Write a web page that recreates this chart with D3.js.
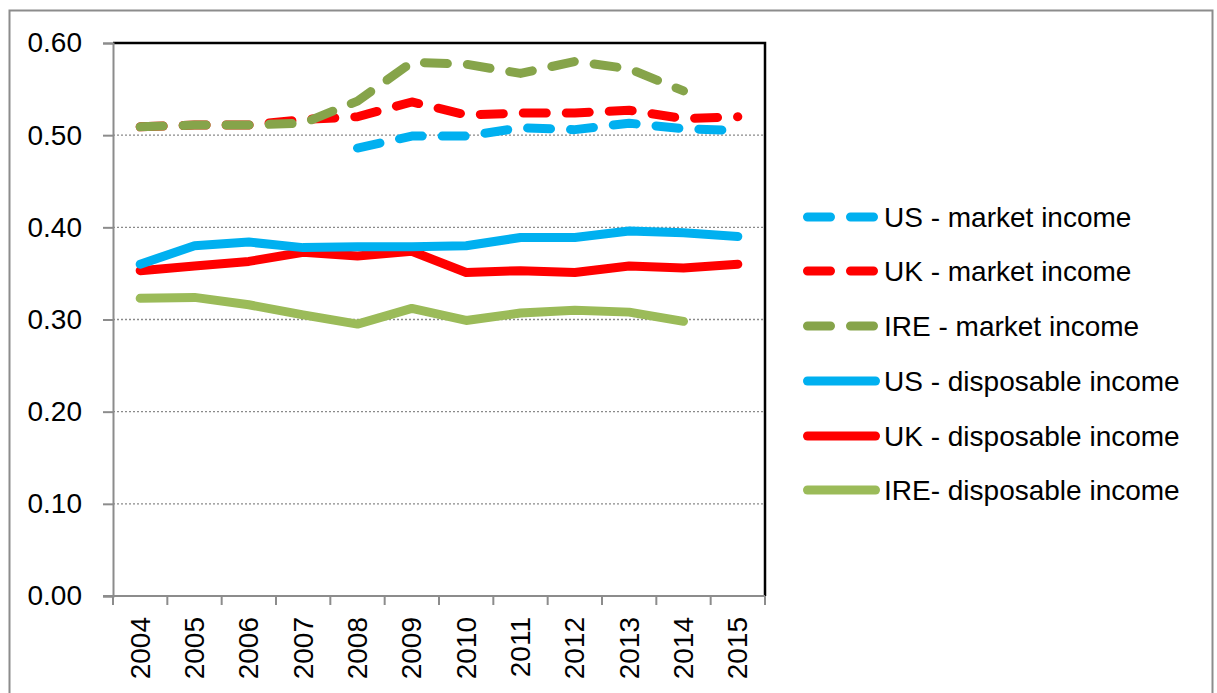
<!DOCTYPE html>
<html>
<head>
<meta charset="utf-8">
<script src="https://cdn.jsdelivr.net/npm/d3@7"></script>
<style>
  html, body { margin: 0; padding: 0; background: #fff; }
  svg { display: block; font-family: "Liberation Sans", Arial, sans-serif; }
</style>
</head>
<body>
<svg id="chart" width="1217" height="693"></svg>
<script>
// Gini coefficients, market vs disposable income
const years = ["2004","2005","2006","2007","2008","2009","2010","2011","2012","2013","2014","2015"];
const yTicks = [0, 0.1, 0.2, 0.3, 0.4, 0.5, 0.6];

const usMarket  = [null, null, null, null, 0.486, 0.499, 0.499, 0.508, 0.506, 0.513, 0.507, 0.505];
const ukMarket  = [0.509, 0.511, 0.511, 0.517, 0.520, 0.536, 0.522, 0.524, 0.524, 0.527, 0.518, 0.520];
const ireMarket = [0.509, 0.511, 0.511, 0.513, 0.537, 0.579, 0.577, 0.567, 0.580, 0.572, 0.548, null];
const usDisp    = [0.360, 0.380, 0.384, 0.378, 0.379, 0.379, 0.380, 0.389, 0.389, 0.396, 0.394, 0.390];
const ukDisp    = [0.353, 0.358, 0.363, 0.373, 0.369, 0.374, 0.351, 0.353, 0.351, 0.358, 0.356, 0.360];
const ireDisp   = [0.323, 0.324, 0.316, 0.305, 0.295, 0.312, 0.299, 0.307, 0.310, 0.308, 0.298, null];

const seriesNames  = ["US - market income", "UK - market income", "IRE - market income",
                      "US - disposable income", "UK - disposable income", "IRE- disposable income"];
const seriesValues = [usMarket, ukMarket, ireMarket, usDisp, ukDisp, ireDisp];
const seriesColors = ["#00B0F0", "#FF0000", "#86A44A", "#00B0F0", "#FF0000", "#9BBB59"];
const seriesDashed = [true, true, true, false, false, false];

const svg = d3.select("#chart");
const plot = { left: 113, right: 765, top: 43, bottom: 596 };
const lineW = 9;
const dash = "23,20";

// outer chart frame
svg.append("rect")
  .attr("x", 9.5).attr("y", 10.5).attr("width", 1203).attr("height", 700)
  .attr("fill", "none").attr("stroke", "#8c8c8c").attr("stroke-width", 2);

const x = d3.scaleBand().domain(years).range([plot.left, plot.right]).padding(0);
const y = d3.scaleLinear().domain([0, 0.6]).range([plot.bottom, plot.top]);

// horizontal dotted gridlines
svg.append("g")
  .selectAll("line")
  .data(yTicks.filter(t => t > 0 && t < 0.6))
  .join("line")
  .attr("x1", plot.left).attr("x2", plot.right)
  .attr("y1", d => y(d)).attr("y2", d => y(d))
  .attr("stroke", "#8a8a8a").attr("stroke-width", 1.3)
  .attr("stroke-dasharray", "2,2");

// plot frame: black top and right edges
svg.append("path")
  .attr("d", `M${plot.left},${plot.top}H${plot.right}V${plot.bottom}`)
  .attr("fill", "none").attr("stroke", "#000").attr("stroke-width", 2.5);

// y axis
const yAxis = svg.append("g")
  .attr("transform", `translate(${plot.left},0)`)
  .call(d3.axisLeft(y).tickValues(yTicks).tickFormat(d3.format(".2f")).tickSize(10).tickPadding(21));
yAxis.select(".domain").attr("stroke", "#8c8c8c").attr("stroke-width", 2);
yAxis.selectAll(".tick line").attr("stroke", "#8c8c8c").attr("stroke-width", 2);
yAxis.selectAll(".tick text")
  .attr("font-size", 28).attr("fill", "#000")
  .attr("font-family", "'Liberation Sans', Arial, sans-serif");

// x axis: ticks on category boundaries
const xAxisG = svg.append("g").attr("transform", `translate(0,${plot.bottom})`);
xAxisG.append("line")
  .attr("x1", plot.left - 10).attr("x2", plot.right)
  .attr("stroke", "#8c8c8c").attr("stroke-width", 2);
const bounds = years.map(d => x(d)).concat([x(years[years.length - 1]) + x.bandwidth()]);
xAxisG.selectAll("line.tick")
  .data(bounds)
  .join("line").attr("class", "tick")
  .attr("x1", d => d).attr("x2", d => d)
  .attr("y1", 0).attr("y2", 9)
  .attr("stroke", "#8c8c8c").attr("stroke-width", 2);
xAxisG.selectAll("text")
  .data(years)
  .join("text")
  .attr("transform", d => `translate(${x(d) + x.bandwidth() / 2},21) rotate(-90)`)
  .attr("text-anchor", "end")
  .attr("dominant-baseline", "central")
  .attr("font-size", 28).attr("fill", "#000")
  .text(d => d);

// series lines
const line = d3.line()
  .defined(d => d.v !== null)
  .x(d => x(d.year) + x.bandwidth() / 2)
  .y(d => y(d.v));

const linesG = svg.append("g");
// draw solid lines first, dashed on top
const order = [5, 4, 3, 0, 1, 2];
order.forEach(i => {
  const pts = years.map((yr, j) => ({ year: yr, v: seriesValues[i][j] }));
  linesG.append("path")
    .datum(pts)
    .attr("d", line)
    .attr("fill", "none")
    .attr("stroke", seriesColors[i])
    .attr("stroke-width", lineW)
    .attr("stroke-linecap", "round")
    .attr("stroke-linejoin", "round")
    .attr("stroke-dasharray", seriesDashed[i] ? dash : null);
});

// legend
const legendRows = [217, 271, 326, 381, 436, 490];
const legend = svg.append("g");
seriesNames.forEach((name, i) => {
  const ry = legendRows[i];
  legend.append("line")
    .attr("x1", 807.5).attr("x2", seriesDashed[i] ? 873.5 : 875.5)
    .attr("y1", ry).attr("y2", ry)
    .attr("stroke", seriesColors[i])
    .attr("stroke-width", lineW)
    .attr("stroke-linecap", "round")
    .attr("stroke-dasharray", seriesDashed[i] ? dash : null);
  legend.append("text")
    .attr("x", 884).attr("y", ry)
    .attr("dominant-baseline", "central")
    .attr("font-size", 28).attr("fill", "#000")
    .text(name);
});
</script>
</body>
</html>
